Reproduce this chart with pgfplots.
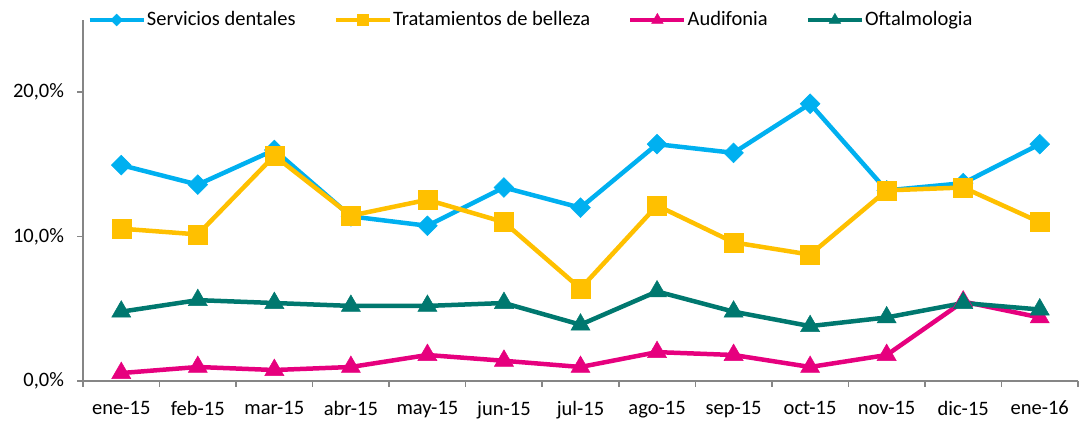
\documentclass[border=0pt]{standalone}
\usepackage{pgfplots}
\pgfplotsset{compat=1.18}
\usepackage{fontspec}
\setmainfont{Carlito}

\definecolor{dental}{HTML}{00B0F0}
\definecolor{belleza}{HTML}{FFC000}
\definecolor{audif}{HTML}{E6007E}
\definecolor{oftal}{HTML}{00786F}
\definecolor{axgray}{HTML}{868686}

\begin{document}
\fontsize{20.5pt}{24pt}\selectfont
\begin{tikzpicture}
\begin{axis}[
    scale only axis,
    width=995pt, height=361pt,
    xmin=-0.5, xmax=12.5,
    ymin=0, ymax=25,
    axis x line*=bottom, axis y line*=left,
    axis line style={axgray, line width=1.5pt},
    xtick={0,...,12},
    xticklabels={ene-15,feb-15,mar-15,abr-15,may-15,jun-15,jul-15,ago-15,sep-15,oct-15,nov-15,dic-15,ene-16},
    minor xtick={-0.5,0.5,...,12.5},
    major x tick style={draw=none},
    minor x tick style={axgray, line width=1.5pt},
    ytick={0,10,20},
    yticklabels={{0,0\%},{10,0\%},{20,0\%}},
    y tick style={axgray, line width=1.5pt},
    tick align=outside,
    major tick length=6pt, minor tick length=6pt,
    tick label style={font=\fontsize{20.5pt}{24pt}\selectfont, text=black},
    xticklabel style={yshift=-7pt},
    yticklabel style={xshift=-6pt},
    /pgf/number format/assume math mode=true,
    legend columns=4,
    legend style={at={(0.4497,1)}, anchor=center, draw=none, fill=none,
        font=\fontsize{20.5pt}{24pt}\selectfont,
        /tikz/every even column/.append style={column sep=37pt},
        nodes={inner sep=1pt}},
    legend image code/.code={
        \draw[#1, every mark/.append style={scale=0.6}, mark repeat=2, mark phase=2]
        plot coordinates {(0pt,0pt) (27pt,0pt) (54pt,0pt)};},
    every axis plot/.append style={line width=4.5pt},
    clip=false,
]
\addplot[dental, mark=square*, mark size=7pt, mark options={rotate=45, line width=0.5pt}]
coordinates {(0,14.95)(1,13.6)(2,16.0)(3,11.4)(4,10.75)(5,13.4)(6,12.0)(7,16.4)(8,15.8)(9,19.2)(10,13.2)(11,13.7)(12,16.4)};
\addplot[belleza, mark=square*, mark size=9.5pt, mark options={line width=0.5pt}]
coordinates {(0,10.55)(1,10.15)(2,15.6)(3,11.45)(4,12.55)(5,11.0)(6,6.4)(7,12.15)(8,9.6)(9,8.75)(10,13.2)(11,13.4)(12,11.0)};
\addplot[audif, mark=triangle*, mark size=11pt, mark options={line width=0.5pt}]
coordinates {(0,0.55)(1,0.97)(2,0.76)(3,0.97)(4,1.8)(5,1.4)(6,0.97)(7,2.0)(8,1.8)(9,0.97)(10,1.8)(11,5.5)(12,4.4)};
\addplot[oftal, mark=triangle*, mark size=11pt, mark options={line width=0.5pt}]
coordinates {(0,4.8)(1,5.6)(2,5.4)(3,5.2)(4,5.2)(5,5.4)(6,3.9)(7,6.2)(8,4.8)(9,3.8)(10,4.4)(11,5.4)(12,4.95)};
\legend{Servicios dentales, Tratamientos de belleza, Audifonia, Oftalmologia}
\end{axis}
\path[use as bounding box] (-83pt,-38pt) rectangle (1003pt,381pt);
\end{tikzpicture}
\end{document}
